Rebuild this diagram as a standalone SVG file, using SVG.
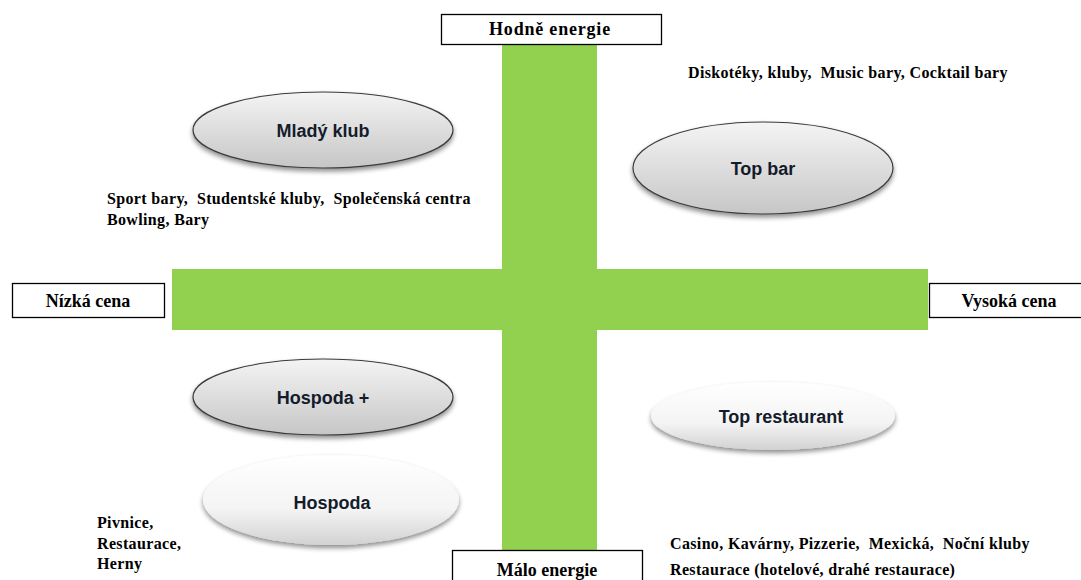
<svg xmlns="http://www.w3.org/2000/svg" width="1081" height="580" viewBox="0 0 1081 580">
<defs>
<linearGradient id="gGray" x1="0" y1="0" x2="0" y2="1">
<stop offset="0" stop-color="#f4f4f4"/>
<stop offset="1" stop-color="#c6c6c6"/>
</linearGradient>
<linearGradient id="gWhite" x1="0" y1="0" x2="0" y2="1">
<stop offset="0" stop-color="#ffffff"/>
<stop offset="0.6" stop-color="#f4f4f4"/>
<stop offset="1" stop-color="#d2d2d2"/>
</linearGradient>
<filter id="sh" x="-20%" y="-20%" width="140%" height="160%">
<feGaussianBlur in="SourceAlpha" stdDeviation="2.5"/>
<feOffset dx="0" dy="3" result="b"/>
<feComponentTransfer><feFuncA type="linear" slope="0.45"/></feComponentTransfer>
<feMerge><feMergeNode/><feMergeNode in="SourceGraphic"/></feMerge>
</filter>
</defs>
<style>
.bar{fill:#92d050}
.box{fill:#ffffff;stroke:#000000;stroke-width:1.3}
.gray{fill:url(#gGray);stroke:#3a3a3a;stroke-width:1.2}
.white{fill:url(#gWhite);stroke:none}
.lbl{font-family:"Liberation Sans",Arial,sans-serif;font-weight:bold;font-size:18px;fill:#141c2c;text-anchor:middle}
.ax{font-family:"Liberation Serif","Times New Roman",serif;font-weight:bold;font-size:18px;fill:#000;text-anchor:middle}
.note{font-family:"Liberation Serif","Times New Roman",serif;font-weight:bold;font-size:16px;letter-spacing:0.35px;fill:#000}
</style>
<g id="axes">
<rect class="bar" x="502" y="45" width="95" height="510"/>
<rect class="bar" x="172" y="269" width="756" height="61"/>
</g>
<g id="connectors"></g>
<g id="top-axis"><rect class="box" x="441.5" y="14.5" width="220" height="30"/><text class="ax" x="550" y="35" style="letter-spacing:0.8px">Hodně energie</text></g>
<g id="left-axis"><rect class="box" x="12.5" y="283.5" width="152" height="34"/><text class="ax" x="88" y="307">Nízká cena</text></g>
<g id="right-axis"><rect class="box" x="929.5" y="283.5" width="155" height="34"/><text class="ax" x="1009" y="307">Vysoká cena</text></g>
<g id="bottom-axis"><rect class="box" x="452.5" y="550.5" width="190" height="35"/><text class="ax" x="547" y="576">Málo energie</text></g>
<g id="mlady-klub"><ellipse class="gray" cx="323" cy="130" rx="130" ry="38" filter="url(#sh)"/><text class="lbl" x="323" y="137">Mladý klub</text></g>
<g id="top-bar"><ellipse class="gray" cx="763" cy="168" rx="130" ry="46" filter="url(#sh)"/><text class="lbl" x="763" y="175">Top bar</text></g>
<g id="hospoda-plus"><ellipse class="gray" cx="323" cy="397" rx="130" ry="38" filter="url(#sh)"/><text class="lbl" x="323" y="404">Hospoda +</text></g>
<g id="hospoda"><ellipse class="white" cx="331" cy="500" rx="128" ry="45" filter="url(#sh)"/><text class="lbl" x="332" y="509">Hospoda</text></g>
<g id="top-restaurant"><ellipse class="white" cx="773" cy="416" rx="122" ry="34" filter="url(#sh)"/><text class="lbl" x="781" y="423">Top restaurant</text></g>
<g id="notes">
<text class="note" x="688" y="78" xml:space="preserve">Diskotéky, kluby,  Music bary, Cocktail bary</text>
<text class="note" x="107" y="204" xml:space="preserve">Sport bary,  Studentské kluby,  Společenská centra</text>
<text class="note" x="107" y="225">Bowling, Bary</text>
<text class="note" x="97" y="528">Pivnice,</text>
<text class="note" x="97" y="549">Restaurace,</text>
<text class="note" x="97" y="569">Herny</text>
<text class="note" x="670" y="549" xml:space="preserve">Casino, Kavárny, Pizzerie,  Mexická,  Noční kluby</text>
<text class="note" x="670" y="575">Restaurace (hotelové, drahé restaurace)</text>
</g>
</svg>
